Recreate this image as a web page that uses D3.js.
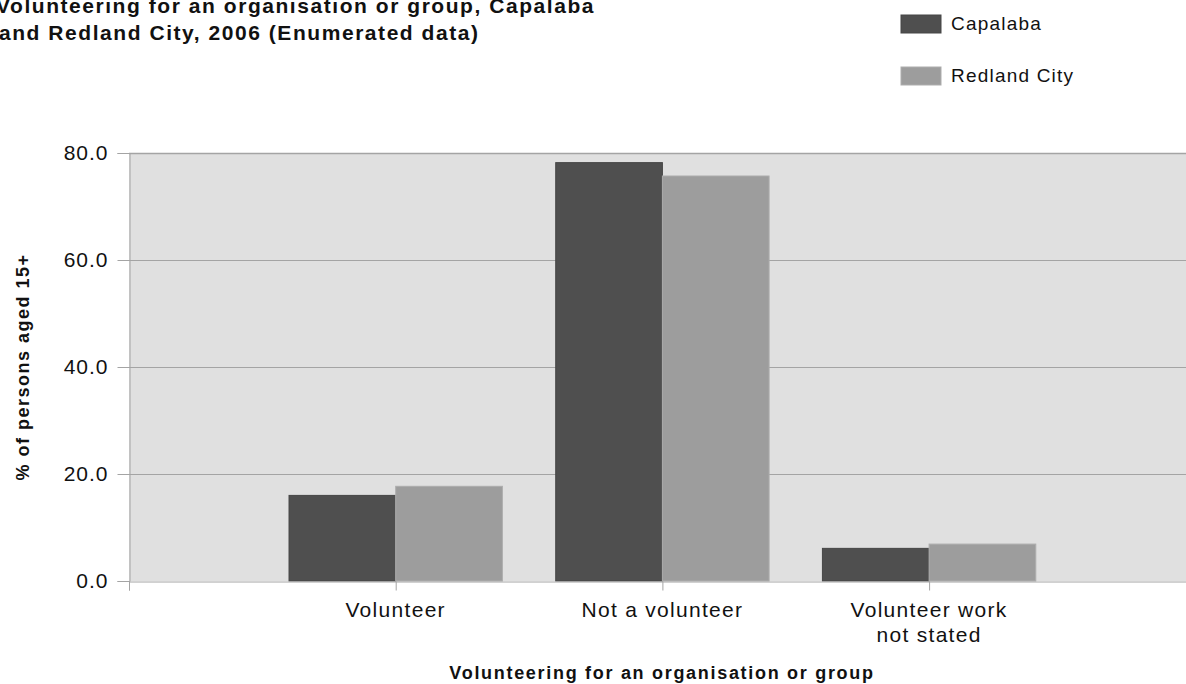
<!DOCTYPE html>
<html>
<head>
<meta charset="utf-8">
<script src="https://cdn.jsdelivr.net/npm/d3@7"></script>
<style>
body{
  margin:0;
  background:#fff;
  font-family: "Liberation Sans", Arial, sans-serif;
}
svg text{fill:#111;}
</style>
</head>
<body>
<svg id="chart" width="1186" height="684"></svg>
<script>
// data
var categories = ['Volunteer', 'Not a volunteer', 'Volunteer work|not stated']
var seriesNames = ['Capalaba', 'Redland City']
var capalaba = [16.0, 78.2, 6.1]
var redland = [17.7, 75.7, 6.9]
var yTicks = [0, 20, 40, 60, 80]
var colors = ['#4f4f4f', '#9d9d9d']
var strokes = ['#464646', '#adadad']

var svg = d3.select('#chart')
var mLeft = 129, mTop = 153, mBottom = 581

// categories sit on 1,2,3 of a 0..4 axis (the right end runs past the picture)
var x = d3.scaleLinear().domain([0, 4]).range([mLeft, mLeft + 4 * 266.7])
var y = d3.scaleLinear().domain([0, 80]).range([mBottom, mTop])
var barW = 0.4

// plot background
svg.append('rect')
  .attr('x', x(0)).attr('y', y(80))
  .attr('width', x(4) - x(0)).attr('height', y(0) - y(80))
  .attr('fill', '#e0e0e0')

// gridlines
svg.append('g').selectAll('line').data(yTicks.filter(d => d > 0)).join('line')
  .attr('x1', x(0)).attr('x2', x(4))
  .attr('y1', d => y(d) + 0.5).attr('y2', d => y(d) + 0.5)
  .attr('stroke', '#a4a4a4').attr('stroke-width', d => d == 80 ? 1.6 : 1)

// bars
var series = [capalaba, redland]
series.forEach(function(vals, s){
  svg.append('g').selectAll('rect').data(vals).join('rect')
    .attr('x', (d, i) => x(i + 1 + (s == 0 ? -barW : 0)))
    .attr('width', x(barW) - x(0))
    .attr('y', d => y(d))
    .attr('height', d => y(0) - y(d))
    .attr('fill', colors[s])
    .attr('stroke', strokes[s]).attr('stroke-width', 1)
})

// y axis
var yAxis = d3.axisLeft(y).tickValues(yTicks).tickSize(12).tickPadding(9).tickFormat(d3.format('.1f'))
var gy = svg.append('g').attr('transform', 'translate(' + (mLeft + 0.5) + ',0)').call(yAxis)
gy.select('.domain').attr('stroke', '#a4a4a4')
gy.selectAll('.tick line').attr('stroke', '#a4a4a4')
gy.selectAll('.tick text').attr('font-size', 21).attr('letter-spacing', '1px')
  .attr('font-family', '"Liberation Sans", Arial, sans-serif').attr('fill', '#1a1a1a')

// x axis
var xAxis = d3.axisBottom(x).tickValues([0, 1, 2, 3]).tickSize(9).tickFormat('')
var gx = svg.append('g').attr('transform', 'translate(0,' + (mBottom + 0.5) + ')').call(xAxis)
gx.select('.domain').attr('stroke', '#a4a4a4')
gx.selectAll('.tick line').attr('stroke', '#a4a4a4')

// category labels
categories.forEach(function(c, i){
  var t = svg.append('text')
    .attr('text-anchor', 'middle')
    .attr('font-size', 21).attr('letter-spacing', '1.3px')
    .attr('fill', '#1a1a1a')
  c.split('|').forEach(function(line, k){
    t.append('tspan').attr('x', x(i + 1)).attr('y', 617 + k * 25).text(line)
  })
})

// axis titles
svg.append('text')
  .attr('x', 662).attr('y', 679)
  .attr('text-anchor', 'middle')
  .attr('font-size', 18).attr('font-weight', 'bold').attr('letter-spacing', '1.7px')
  .text('Volunteering for an organisation or group')

svg.append('text')
  .attr('transform', 'translate(29,' + ((mTop + mBottom) / 2) + ') rotate(-90)')
  .attr('text-anchor', 'middle')
  .attr('font-size', 18).attr('font-weight', 'bold').attr('letter-spacing', '1.5px')
  .text('% of persons aged 15+')

// chart title (left edge is cut off in the source)
var title = svg.append('text')
  .attr('font-size', 21).attr('font-weight', 'bold').attr('letter-spacing', '1.55px')
title.append('tspan').attr('x', -4).attr('y', 13).text('Volunteering for an organisation or group, Capalaba')
title.append('tspan').attr('x', -1).attr('y', 40).text('and Redland City, 2006 (Enumerated data)')

// legend
var lg = svg.append('g').selectAll('g').data(seriesNames).join('g')
  .attr('transform', (d, i) => 'translate(901,' + (15 + i * 52) + ')')
lg.append('rect').attr('width', 40).attr('height', 18)
  .attr('fill', (d, i) => colors[i]).attr('stroke', (d, i) => strokes[i])
lg.append('text').attr('x', 50).attr('y', 15)
  .attr('font-size', 19).attr('letter-spacing', '1.2px').attr('fill', '#1a1a1a')
  .text(d => d)
</script>
</body>
</html>
